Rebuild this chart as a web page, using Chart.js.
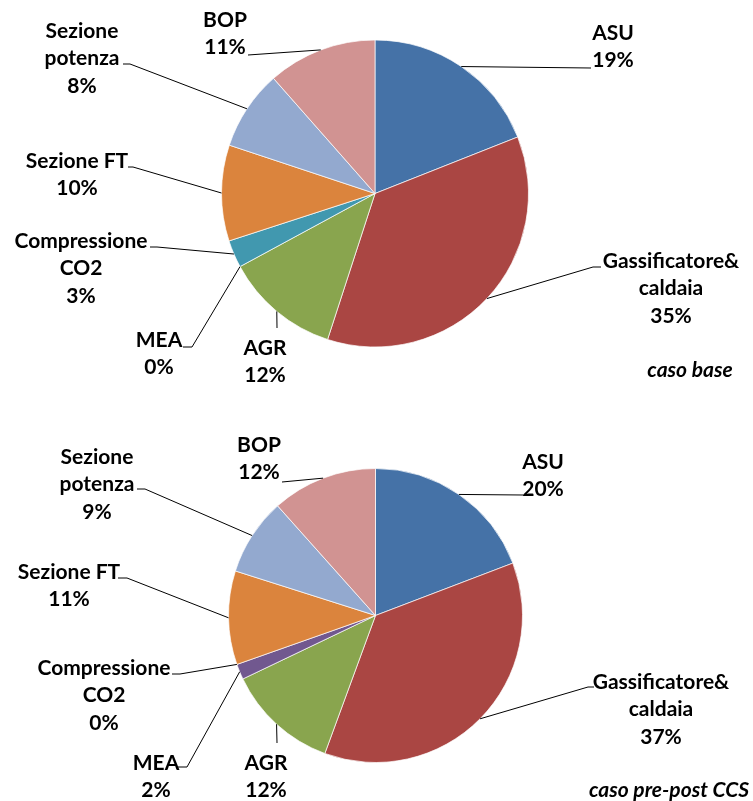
<!DOCTYPE html>
<html><head><meta charset="utf-8">
<script src="https://cdn.jsdelivr.net/npm/chart.js@4"></script>
<style>
html,body{margin:0;padding:0;background:#fff;}
#wrap{position:relative;width:753px;height:801px;overflow:hidden;}
.c{position:absolute;left:0;width:753px;}
</style></head><body>
<div id="wrap">
<div class="c" style="top:0;height:400px"><canvas id="c1"></canvas></div>
<div class="c" style="top:400px;height:401px"><canvas id="c2"></canvas></div>
</div>
<script>
// ---- data ----
const categories = ['ASU', 'Gassificatore&\ncaldaia', 'AGR', 'MEA', 'Compressione\nCO2', 'Sezione FT', 'Sezione\npotenza', 'BOP'];
const valuesBase = [19.0, 36.0, 12.1, 0, 2.9, 10.1, 8.4, 11.5];
const pctBase = ['19%', '35%', '12%', '0%', '3%', '10%', '8%', '11%'];
const valuesCCS = [19.2, 36.4, 12.3, 1.7, 0, 10.3, 8.5, 11.6];
const pctCCS = ['20%', '37%', '12%', '2%', '0%', '11%', '9%', '12%'];
const captionBase = 'caso base';
const captionCCS = 'caso pre-post CCS';

// ---- styling / layout ----
const colors = ['#4572A7', '#AA4643', '#89A54E', '#71588F', '#4198AF', '#DB843D', '#93A9CF', '#D19392'];
const FONT = 'bold 21px Lato, "DejaVu Sans", sans-serif';
const FONT_I = 'italic bold 21px Lato, "DejaVu Sans", sans-serif';
const LH = 27.5;

// text center (first line) and leader path from slice edge
const layoutBase = [
  {x: 613, y: 33,  pts: [[591, 68]]},
  {x: 671, y: 261, pts: [[593, 267], [601, 267]]},
  {x: 265, y: 348, pts: [[277, 328]]},
  {x: 159, y: 340, pts: [[192, 347], [183, 347]]},
  {x: 81,  y: 241, pts: [[157, 247], [150, 247]]},
  {x: 77,  y: 161, pts: [[133, 167], [128, 167]]},
  {x: 82,  y: 31,  pts: [[130, 64], [123, 64]]},
  {x: 225, y: 20,  pts: [[248, 55]]}
];
const layoutCCS = [
  {x: 543, y: 62,  pts: [[523, 95]]},
  {x: 661, y: 282, pts: [[588, 287], [594, 287]]},
  {x: 266, y: 363, pts: [[277, 343]]},
  {x: 156, y: 363, pts: [[187, 367], [178, 367]]},
  {x: 104, y: 268, pts: [[180, 274], [172, 274]]},
  {x: 69,  y: 172, pts: [[127, 178], [118, 178]]},
  {x: 97,  y: 57,  pts: [[145, 89], [137, 89]]},
  {x: 259, y: 45,  pts: [[282, 82]]}
];

const labelPlugin = {
  id: 'pieLabels',
  afterDraw(chart, args, opts) {
    const ctx = chart.ctx;
    const meta = chart.getDatasetMeta(0);
    ctx.save();
    meta.data.forEach((arc, i) => {
      const p = arc.getProps(['x', 'y', 'startAngle', 'endAngle', 'outerRadius'], true);
      const mid = (p.startAngle + p.endAngle) / 2;
      const ax = p.x + Math.cos(mid) * p.outerRadius;
      const ay = p.y + Math.sin(mid) * p.outerRadius;
      const L = opts.layout[i];
      ctx.beginPath();
      ctx.moveTo(ax, ay);
      L.pts.forEach(q => ctx.lineTo(q[0], q[1]));
      ctx.strokeStyle = '#000';
      ctx.lineWidth = 1;
      ctx.stroke();
      const lines = chart.data.labels[i].split('\n').concat([opts.pct[i]]);
      ctx.font = FONT;
      ctx.fillStyle = '#000';
      ctx.textAlign = 'center';
      ctx.textBaseline = 'middle';
      lines.forEach((t, k) => ctx.fillText(t, L.x, L.y + k * LH));
    });
    ctx.font = FONT_I;
    ctx.textAlign = 'center';
    ctx.textBaseline = 'middle';
    ctx.fillText(opts.caption, opts.capX, opts.capY);
    ctx.restore();
  }
};

function makePie(id, values, pct, layout, caption, capX, capY, pad) {
  return new Chart(document.getElementById(id), {
    type: 'pie',
    data: {
      labels: categories,
      datasets: [{
        data: values,
        backgroundColor: colors,
        borderColor: 'rgba(255,255,255,0.7)',
        borderWidth: values.map(v => v > 0 ? 1 : 0)
      }]
    },
    options: {
      responsive: true,
      maintainAspectRatio: false,
      animation: false,
      layout: {padding: pad},
      plugins: {
        legend: {display: false},
        tooltip: {enabled: false},
        pieLabels: {layout, pct, caption, capX, capY}
      }
    },
    plugins: [labelPlugin]
  });
}

makePie('c1', valuesBase, pctBase, layoutBase, captionBase, 690, 370,
  {top: 39.5, bottom: 52.5, left: 221, right: 224});
makePie('c2', valuesCCS, pctCCS, layoutCCS, captionCCS, 669, 390,
  {top: 68, bottom: 38, left: 228, right: 230});
</script>
</body></html>
